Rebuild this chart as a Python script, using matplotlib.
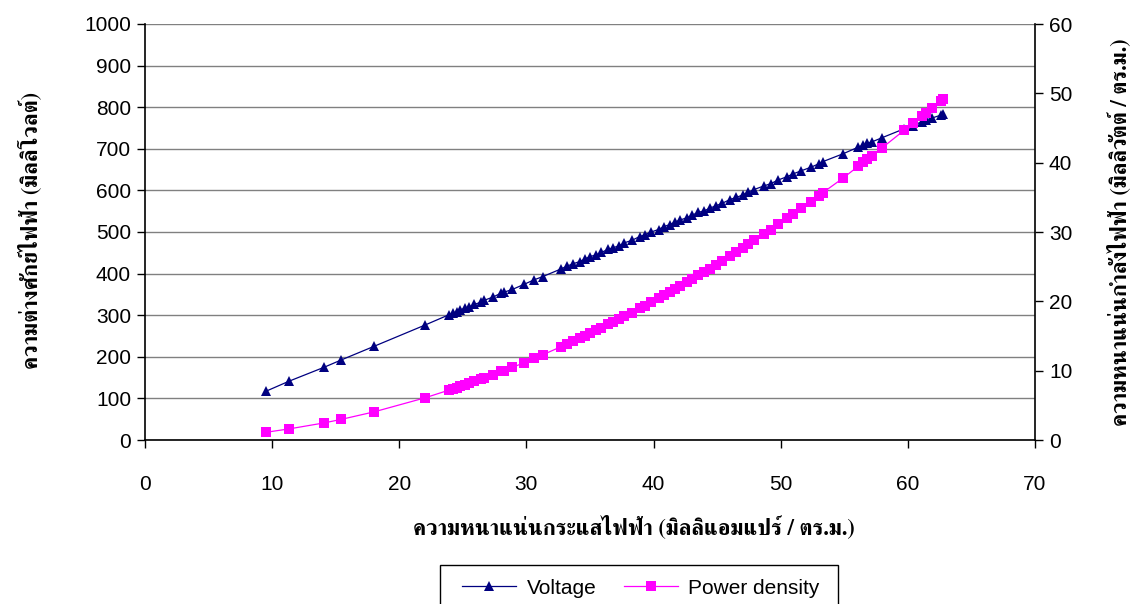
import matplotlib
matplotlib.use("Agg")
import matplotlib.pyplot as plt
from matplotlib.patches import Rectangle

# current density (mA/cm2), cell voltage (mV), power density (mW/cm2)
current = [9.5, 11.3, 14.1, 15.4, 18.0, 22.0, 23.9, 24.2, 24.5, 24.8,
           25.2, 25.5, 25.9, 26.4, 26.7, 27.4, 28.0, 28.2, 28.9, 29.8,
           30.6, 31.3, 32.7, 33.2, 33.7, 34.2, 34.6, 35.0, 35.5, 35.9,
           36.4, 36.8, 37.3, 37.7, 38.3, 38.9, 39.3, 39.8, 40.4, 40.8,
           41.3, 41.7, 42.1, 42.6, 43.0, 43.5, 44.0, 44.4, 44.9, 45.4,
           46.0, 46.5, 47.0, 47.4, 47.9, 48.7, 49.2, 49.8, 50.5, 51.0,
           51.6, 52.4, 53.0, 53.3, 54.9, 56.1, 56.5, 56.8, 57.2, 58.0,
           59.7, 60.4, 61.1, 61.4, 61.9, 62.6, 62.8]
voltage = [117, 141, 175, 192, 225, 276, 301, 305, 308, 313,
           317, 320, 326, 331, 336, 344, 353, 355, 362, 374,
           385, 393, 411, 418, 424, 429, 435, 441, 445, 451,
           458, 462, 467, 474, 480, 489, 493, 500, 506, 513,
           518, 524, 529, 534, 540, 547, 551, 557, 563, 569,
           578, 583, 589, 595, 602, 611, 616, 625, 633, 640,
           647, 656, 664, 669, 688, 704, 709, 713, 717, 727,
           748, 756, 765, 769, 774, 781, 784]
power = [1.11, 1.59, 2.47, 2.96, 4.05, 6.07, 7.19, 7.38, 7.55, 7.76,
         7.99, 8.16, 8.44, 8.74, 8.97, 9.43, 9.88, 10.01, 10.46, 11.15,
         11.78, 12.30, 13.44, 13.88, 14.29, 14.67, 15.05, 15.44, 15.80, 16.19,
         16.67, 17.00, 17.42, 17.87, 18.38, 19.02, 19.37, 19.90, 20.44, 20.93,
         21.39, 21.85, 22.27, 22.75, 23.22, 23.79, 24.24, 24.73, 25.28, 25.83,
         26.59, 27.11, 27.68, 28.20, 28.84, 29.76, 30.31, 31.13, 31.97, 32.64,
         33.39, 34.37, 35.19, 35.66, 37.77, 39.49, 40.06, 40.50, 41.01, 42.17,
         44.66, 45.66, 46.74, 47.22, 47.91, 48.89, 49.24]

thai = ["FreeSerif", "Noto Serif Thai"]
plt.rcParams["font.family"] = ["Liberation Sans", "DejaVu Sans"]

W, H = 1130, 604
fig = plt.figure(figsize=(W / 100, H / 100), dpi=100)
ax = fig.add_axes([145 / W, 1 - 440 / H, 890 / W, 416 / H])
ax2 = ax.twinx()

l1, = ax.plot(current, voltage, color="#000080", lw=0.9, marker="^", ms=7.5,
              markeredgewidth=0, label="Voltage", zorder=3)
l2, = ax2.plot(current, power, color="#FF00FF", lw=0.9, marker="s", ms=6.5,
               markeredgewidth=0, label="Power density", zorder=3)

ax.set_xlim(0, 70)
ax.set_ylim(0, 1000)
ax2.set_ylim(0, 60)
ax.set_xticks(range(0, 71, 10))
ax.set_yticks(range(0, 1001, 100))
ax2.set_yticks(range(0, 61, 10))

ax.grid(axis="y", color="#808080", lw=1)
ax.set_axisbelow(True)
for a in (ax, ax2):
    a.spines["top"].set_visible(False)
    for s in ("left", "bottom", "right"):
        a.spines[s].set_linewidth(1.2)
        a.spines[s].set_color("black")
    a.tick_params(labelsize=15, length=6, width=1, direction="out", pad=4)
ax.spines["right"].set_visible(False)
ax2.spines["left"].set_visible(False)
ax2.spines["bottom"].set_visible(False)
ax.tick_params(axis="x", pad=19)

fig.text(634 / W, 1 - 527 / H, "ความหนาแน่นกระแสไฟฟ้า (มิลลิแอมแปร์ / ตร.ม.)",
         family=thai, weight="bold", fontsize=16, ha="center", va="center")
fig.text(30 / W, 1 - 230 / H, "ความต่างศักย์ไฟฟ้า (มิลลิโวลต์)",
         family=thai, weight="bold", fontsize=16, ha="center", va="center", rotation=90)
fig.text(1119 / W, 1 - 232 / H, "ความหนาแน่นกำลังไฟฟ้า (มิลลิวัตต์ / ตร.ม.)",
         family=thai, weight="bold", fontsize=16, ha="center", va="center", rotation=90)

# legend box runs off the bottom edge
fig.patches.append(Rectangle((440 / W, -0.02), 398 / W, (H - 565) / H + 0.02,
                             transform=fig.transFigure, fill=False,
                             edgecolor="black", lw=1))
fig.legend([l1, l2], ["Voltage", "Power density"], ncol=2, loc="center",
           bbox_to_anchor=(641 / W, 1 - 588 / H), fontsize=15, frameon=False,
           handlelength=2.6, handletextpad=0.5, columnspacing=1.3,
           borderpad=0, borderaxespad=0)

fig.savefig("out.png", dpi=100)
